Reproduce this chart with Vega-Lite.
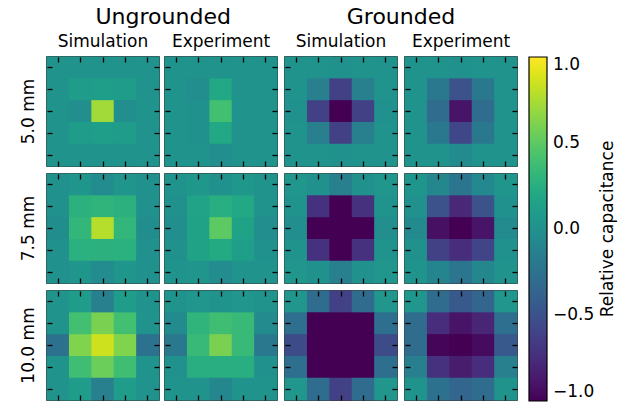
{
"$schema":"https://vega.github.io/schema/vega-lite/v6.json",
"padding":{"left":19,"top":6,"right":2,"bottom":2},
"background":"white",
"datasets":{"cells":[
{"s":"5.0 mm","g":"U","k":"Simulation","r":0,"c":0,"v":0.03},{"s":"5.0 mm","g":"U","k":"Simulation","r":0,"c":1,"v":0.03},{"s":"5.0 mm","g":"U","k":"Simulation","r":0,"c":2,"v":0.03},{"s":"5.0 mm","g":"U","k":"Simulation","r":0,"c":3,"v":0.03},{"s":"5.0 mm","g":"U","k":"Simulation","r":0,"c":4,"v":0.03},
{"s":"5.0 mm","g":"U","k":"Simulation","r":1,"c":0,"v":0.03},{"s":"5.0 mm","g":"U","k":"Simulation","r":1,"c":1,"v":0.1},{"s":"5.0 mm","g":"U","k":"Simulation","r":1,"c":2,"v":0.12},{"s":"5.0 mm","g":"U","k":"Simulation","r":1,"c":3,"v":0.1},{"s":"5.0 mm","g":"U","k":"Simulation","r":1,"c":4,"v":0.03},
{"s":"5.0 mm","g":"U","k":"Simulation","r":2,"c":0,"v":0.02},{"s":"5.0 mm","g":"U","k":"Simulation","r":2,"c":1,"v":-0.02},{"s":"5.0 mm","g":"U","k":"Simulation","r":2,"c":2,"v":0.72},{"s":"5.0 mm","g":"U","k":"Simulation","r":2,"c":3,"v":-0.02},{"s":"5.0 mm","g":"U","k":"Simulation","r":2,"c":4,"v":0.02},
{"s":"5.0 mm","g":"U","k":"Simulation","r":3,"c":0,"v":0.03},{"s":"5.0 mm","g":"U","k":"Simulation","r":3,"c":1,"v":0.1},{"s":"5.0 mm","g":"U","k":"Simulation","r":3,"c":2,"v":0.12},{"s":"5.0 mm","g":"U","k":"Simulation","r":3,"c":3,"v":0.1},{"s":"5.0 mm","g":"U","k":"Simulation","r":3,"c":4,"v":0.03},
{"s":"5.0 mm","g":"U","k":"Simulation","r":4,"c":0,"v":0.03},{"s":"5.0 mm","g":"U","k":"Simulation","r":4,"c":1,"v":0.03},{"s":"5.0 mm","g":"U","k":"Simulation","r":4,"c":2,"v":0.03},{"s":"5.0 mm","g":"U","k":"Simulation","r":4,"c":3,"v":0.03},{"s":"5.0 mm","g":"U","k":"Simulation","r":4,"c":4,"v":0.03},

{"s":"5.0 mm","g":"U","k":"Experiment","r":0,"c":0,"v":0.02},{"s":"5.0 mm","g":"U","k":"Experiment","r":0,"c":1,"v":0.02},{"s":"5.0 mm","g":"U","k":"Experiment","r":0,"c":2,"v":0.02},{"s":"5.0 mm","g":"U","k":"Experiment","r":0,"c":3,"v":0.02},{"s":"5.0 mm","g":"U","k":"Experiment","r":0,"c":4,"v":0.02},
{"s":"5.0 mm","g":"U","k":"Experiment","r":1,"c":0,"v":0.02},{"s":"5.0 mm","g":"U","k":"Experiment","r":1,"c":1,"v":-0.02},{"s":"5.0 mm","g":"U","k":"Experiment","r":1,"c":2,"v":0.2},{"s":"5.0 mm","g":"U","k":"Experiment","r":1,"c":3,"v":0.02},{"s":"5.0 mm","g":"U","k":"Experiment","r":1,"c":4,"v":0.02},
{"s":"5.0 mm","g":"U","k":"Experiment","r":2,"c":0,"v":0.02},{"s":"5.0 mm","g":"U","k":"Experiment","r":2,"c":1,"v":0.0},{"s":"5.0 mm","g":"U","k":"Experiment","r":2,"c":2,"v":0.4},{"s":"5.0 mm","g":"U","k":"Experiment","r":2,"c":3,"v":0.02},{"s":"5.0 mm","g":"U","k":"Experiment","r":2,"c":4,"v":0.02},
{"s":"5.0 mm","g":"U","k":"Experiment","r":3,"c":0,"v":0.02},{"s":"5.0 mm","g":"U","k":"Experiment","r":3,"c":1,"v":0.0},{"s":"5.0 mm","g":"U","k":"Experiment","r":3,"c":2,"v":0.2},{"s":"5.0 mm","g":"U","k":"Experiment","r":3,"c":3,"v":0.02},{"s":"5.0 mm","g":"U","k":"Experiment","r":3,"c":4,"v":0.02},
{"s":"5.0 mm","g":"U","k":"Experiment","r":4,"c":0,"v":0.02},{"s":"5.0 mm","g":"U","k":"Experiment","r":4,"c":1,"v":0.02},{"s":"5.0 mm","g":"U","k":"Experiment","r":4,"c":2,"v":-0.02},{"s":"5.0 mm","g":"U","k":"Experiment","r":4,"c":3,"v":0.02},{"s":"5.0 mm","g":"U","k":"Experiment","r":4,"c":4,"v":0.02},

{"s":"5.0 mm","g":"G","k":"Simulation","r":0,"c":0,"v":0.02},{"s":"5.0 mm","g":"G","k":"Simulation","r":0,"c":1,"v":0.02},{"s":"5.0 mm","g":"G","k":"Simulation","r":0,"c":2,"v":0.0},{"s":"5.0 mm","g":"G","k":"Simulation","r":0,"c":3,"v":0.02},{"s":"5.0 mm","g":"G","k":"Simulation","r":0,"c":4,"v":0.02},
{"s":"5.0 mm","g":"G","k":"Simulation","r":1,"c":0,"v":0.02},{"s":"5.0 mm","g":"G","k":"Simulation","r":1,"c":1,"v":-0.15},{"s":"5.0 mm","g":"G","k":"Simulation","r":1,"c":2,"v":-0.62},{"s":"5.0 mm","g":"G","k":"Simulation","r":1,"c":3,"v":-0.15},{"s":"5.0 mm","g":"G","k":"Simulation","r":1,"c":4,"v":0.02},
{"s":"5.0 mm","g":"G","k":"Simulation","r":2,"c":0,"v":0.0},{"s":"5.0 mm","g":"G","k":"Simulation","r":2,"c":1,"v":-0.62},{"s":"5.0 mm","g":"G","k":"Simulation","r":2,"c":2,"v":-1.0},{"s":"5.0 mm","g":"G","k":"Simulation","r":2,"c":3,"v":-0.62},{"s":"5.0 mm","g":"G","k":"Simulation","r":2,"c":4,"v":0.0},
{"s":"5.0 mm","g":"G","k":"Simulation","r":3,"c":0,"v":0.02},{"s":"5.0 mm","g":"G","k":"Simulation","r":3,"c":1,"v":-0.15},{"s":"5.0 mm","g":"G","k":"Simulation","r":3,"c":2,"v":-0.62},{"s":"5.0 mm","g":"G","k":"Simulation","r":3,"c":3,"v":-0.15},{"s":"5.0 mm","g":"G","k":"Simulation","r":3,"c":4,"v":0.02},
{"s":"5.0 mm","g":"G","k":"Simulation","r":4,"c":0,"v":0.02},{"s":"5.0 mm","g":"G","k":"Simulation","r":4,"c":1,"v":0.02},{"s":"5.0 mm","g":"G","k":"Simulation","r":4,"c":2,"v":0.0},{"s":"5.0 mm","g":"G","k":"Simulation","r":4,"c":3,"v":0.02},{"s":"5.0 mm","g":"G","k":"Simulation","r":4,"c":4,"v":0.02},

{"s":"5.0 mm","g":"G","k":"Experiment","r":0,"c":0,"v":0.02},{"s":"5.0 mm","g":"G","k":"Experiment","r":0,"c":1,"v":0.02},{"s":"5.0 mm","g":"G","k":"Experiment","r":0,"c":2,"v":0.0},{"s":"5.0 mm","g":"G","k":"Experiment","r":0,"c":3,"v":0.02},{"s":"5.0 mm","g":"G","k":"Experiment","r":0,"c":4,"v":0.02},
{"s":"5.0 mm","g":"G","k":"Experiment","r":1,"c":0,"v":0.02},{"s":"5.0 mm","g":"G","k":"Experiment","r":1,"c":1,"v":-0.2},{"s":"5.0 mm","g":"G","k":"Experiment","r":1,"c":2,"v":-0.5},{"s":"5.0 mm","g":"G","k":"Experiment","r":1,"c":3,"v":-0.2},{"s":"5.0 mm","g":"G","k":"Experiment","r":1,"c":4,"v":0.02},
{"s":"5.0 mm","g":"G","k":"Experiment","r":2,"c":0,"v":0.02},{"s":"5.0 mm","g":"G","k":"Experiment","r":2,"c":1,"v":-0.3},{"s":"5.0 mm","g":"G","k":"Experiment","r":2,"c":2,"v":-0.9},{"s":"5.0 mm","g":"G","k":"Experiment","r":2,"c":3,"v":-0.3},{"s":"5.0 mm","g":"G","k":"Experiment","r":2,"c":4,"v":0.02},
{"s":"5.0 mm","g":"G","k":"Experiment","r":3,"c":0,"v":0.02},{"s":"5.0 mm","g":"G","k":"Experiment","r":3,"c":1,"v":-0.2},{"s":"5.0 mm","g":"G","k":"Experiment","r":3,"c":2,"v":-0.58},{"s":"5.0 mm","g":"G","k":"Experiment","r":3,"c":3,"v":-0.2},{"s":"5.0 mm","g":"G","k":"Experiment","r":3,"c":4,"v":0.02},
{"s":"5.0 mm","g":"G","k":"Experiment","r":4,"c":0,"v":0.02},{"s":"5.0 mm","g":"G","k":"Experiment","r":4,"c":1,"v":0.02},{"s":"5.0 mm","g":"G","k":"Experiment","r":4,"c":2,"v":-0.05},{"s":"5.0 mm","g":"G","k":"Experiment","r":4,"c":3,"v":0.02},{"s":"5.0 mm","g":"G","k":"Experiment","r":4,"c":4,"v":0.02},

{"s":"7.5 mm","g":"U","k":"Simulation","r":0,"c":0,"v":0.0},{"s":"7.5 mm","g":"U","k":"Simulation","r":0,"c":1,"v":0.04},{"s":"7.5 mm","g":"U","k":"Simulation","r":0,"c":2,"v":-0.04},{"s":"7.5 mm","g":"U","k":"Simulation","r":0,"c":3,"v":0.04},{"s":"7.5 mm","g":"U","k":"Simulation","r":0,"c":4,"v":0.0},
{"s":"7.5 mm","g":"U","k":"Simulation","r":1,"c":0,"v":0.0},{"s":"7.5 mm","g":"U","k":"Simulation","r":1,"c":1,"v":0.28},{"s":"7.5 mm","g":"U","k":"Simulation","r":1,"c":2,"v":0.3},{"s":"7.5 mm","g":"U","k":"Simulation","r":1,"c":3,"v":0.28},{"s":"7.5 mm","g":"U","k":"Simulation","r":1,"c":4,"v":0.0},
{"s":"7.5 mm","g":"U","k":"Simulation","r":2,"c":0,"v":-0.03},{"s":"7.5 mm","g":"U","k":"Simulation","r":2,"c":1,"v":0.32},{"s":"7.5 mm","g":"U","k":"Simulation","r":2,"c":2,"v":0.78},{"s":"7.5 mm","g":"U","k":"Simulation","r":2,"c":3,"v":0.32},{"s":"7.5 mm","g":"U","k":"Simulation","r":2,"c":4,"v":-0.03},
{"s":"7.5 mm","g":"U","k":"Simulation","r":3,"c":0,"v":0.0},{"s":"7.5 mm","g":"U","k":"Simulation","r":3,"c":1,"v":0.27},{"s":"7.5 mm","g":"U","k":"Simulation","r":3,"c":2,"v":0.28},{"s":"7.5 mm","g":"U","k":"Simulation","r":3,"c":3,"v":0.27},{"s":"7.5 mm","g":"U","k":"Simulation","r":3,"c":4,"v":0.0},
{"s":"7.5 mm","g":"U","k":"Simulation","r":4,"c":0,"v":0.0},{"s":"7.5 mm","g":"U","k":"Simulation","r":4,"c":1,"v":0.04},{"s":"7.5 mm","g":"U","k":"Simulation","r":4,"c":2,"v":-0.04},{"s":"7.5 mm","g":"U","k":"Simulation","r":4,"c":3,"v":0.04},{"s":"7.5 mm","g":"U","k":"Simulation","r":4,"c":4,"v":0.0},

{"s":"7.5 mm","g":"U","k":"Experiment","r":0,"c":0,"v":0.02},{"s":"7.5 mm","g":"U","k":"Experiment","r":0,"c":1,"v":0.06},{"s":"7.5 mm","g":"U","k":"Experiment","r":0,"c":2,"v":0.0},{"s":"7.5 mm","g":"U","k":"Experiment","r":0,"c":3,"v":0.06},{"s":"7.5 mm","g":"U","k":"Experiment","r":0,"c":4,"v":0.02},
{"s":"7.5 mm","g":"U","k":"Experiment","r":1,"c":0,"v":0.0},{"s":"7.5 mm","g":"U","k":"Experiment","r":1,"c":1,"v":0.16},{"s":"7.5 mm","g":"U","k":"Experiment","r":1,"c":2,"v":0.25},{"s":"7.5 mm","g":"U","k":"Experiment","r":1,"c":3,"v":0.2},{"s":"7.5 mm","g":"U","k":"Experiment","r":1,"c":4,"v":0.02},
{"s":"7.5 mm","g":"U","k":"Experiment","r":2,"c":0,"v":-0.02},{"s":"7.5 mm","g":"U","k":"Experiment","r":2,"c":1,"v":0.15},{"s":"7.5 mm","g":"U","k":"Experiment","r":2,"c":2,"v":0.5},{"s":"7.5 mm","g":"U","k":"Experiment","r":2,"c":3,"v":0.15},{"s":"7.5 mm","g":"U","k":"Experiment","r":2,"c":4,"v":-0.02},
{"s":"7.5 mm","g":"U","k":"Experiment","r":3,"c":0,"v":0.0},{"s":"7.5 mm","g":"U","k":"Experiment","r":3,"c":1,"v":0.15},{"s":"7.5 mm","g":"U","k":"Experiment","r":3,"c":2,"v":0.22},{"s":"7.5 mm","g":"U","k":"Experiment","r":3,"c":3,"v":0.12},{"s":"7.5 mm","g":"U","k":"Experiment","r":3,"c":4,"v":0.0},
{"s":"7.5 mm","g":"U","k":"Experiment","r":4,"c":0,"v":0.02},{"s":"7.5 mm","g":"U","k":"Experiment","r":4,"c":1,"v":0.04},{"s":"7.5 mm","g":"U","k":"Experiment","r":4,"c":2,"v":-0.04},{"s":"7.5 mm","g":"U","k":"Experiment","r":4,"c":3,"v":0.02},{"s":"7.5 mm","g":"U","k":"Experiment","r":4,"c":4,"v":0.02},

{"s":"7.5 mm","g":"G","k":"Simulation","r":0,"c":0,"v":0.05},{"s":"7.5 mm","g":"G","k":"Simulation","r":0,"c":1,"v":0.0},{"s":"7.5 mm","g":"G","k":"Simulation","r":0,"c":2,"v":-0.15},{"s":"7.5 mm","g":"G","k":"Simulation","r":0,"c":3,"v":0.0},{"s":"7.5 mm","g":"G","k":"Simulation","r":0,"c":4,"v":0.05},
{"s":"7.5 mm","g":"G","k":"Simulation","r":1,"c":0,"v":0.02},{"s":"7.5 mm","g":"G","k":"Simulation","r":1,"c":1,"v":-0.72},{"s":"7.5 mm","g":"G","k":"Simulation","r":1,"c":2,"v":-1.0},{"s":"7.5 mm","g":"G","k":"Simulation","r":1,"c":3,"v":-0.72},{"s":"7.5 mm","g":"G","k":"Simulation","r":1,"c":4,"v":0.02},
{"s":"7.5 mm","g":"G","k":"Simulation","r":2,"c":0,"v":-0.02},{"s":"7.5 mm","g":"G","k":"Simulation","r":2,"c":1,"v":-1.0},{"s":"7.5 mm","g":"G","k":"Simulation","r":2,"c":2,"v":-1.0},{"s":"7.5 mm","g":"G","k":"Simulation","r":2,"c":3,"v":-1.0},{"s":"7.5 mm","g":"G","k":"Simulation","r":2,"c":4,"v":-0.02},
{"s":"7.5 mm","g":"G","k":"Simulation","r":3,"c":0,"v":0.02},{"s":"7.5 mm","g":"G","k":"Simulation","r":3,"c":1,"v":-0.72},{"s":"7.5 mm","g":"G","k":"Simulation","r":3,"c":2,"v":-1.0},{"s":"7.5 mm","g":"G","k":"Simulation","r":3,"c":3,"v":-0.72},{"s":"7.5 mm","g":"G","k":"Simulation","r":3,"c":4,"v":0.02},
{"s":"7.5 mm","g":"G","k":"Simulation","r":4,"c":0,"v":0.05},{"s":"7.5 mm","g":"G","k":"Simulation","r":4,"c":1,"v":0.0},{"s":"7.5 mm","g":"G","k":"Simulation","r":4,"c":2,"v":-0.15},{"s":"7.5 mm","g":"G","k":"Simulation","r":4,"c":3,"v":0.0},{"s":"7.5 mm","g":"G","k":"Simulation","r":4,"c":4,"v":0.05},

{"s":"7.5 mm","g":"G","k":"Experiment","r":0,"c":0,"v":0.04},{"s":"7.5 mm","g":"G","k":"Experiment","r":0,"c":1,"v":-0.08},{"s":"7.5 mm","g":"G","k":"Experiment","r":0,"c":2,"v":-0.22},{"s":"7.5 mm","g":"G","k":"Experiment","r":0,"c":3,"v":-0.06},{"s":"7.5 mm","g":"G","k":"Experiment","r":0,"c":4,"v":0.04},
{"s":"7.5 mm","g":"G","k":"Experiment","r":1,"c":0,"v":0.0},{"s":"7.5 mm","g":"G","k":"Experiment","r":1,"c":1,"v":-0.5},{"s":"7.5 mm","g":"G","k":"Experiment","r":1,"c":2,"v":-0.78},{"s":"7.5 mm","g":"G","k":"Experiment","r":1,"c":3,"v":-0.5},{"s":"7.5 mm","g":"G","k":"Experiment","r":1,"c":4,"v":0.0},
{"s":"7.5 mm","g":"G","k":"Experiment","r":2,"c":0,"v":-0.05},{"s":"7.5 mm","g":"G","k":"Experiment","r":2,"c":1,"v":-0.92},{"s":"7.5 mm","g":"G","k":"Experiment","r":2,"c":2,"v":-1.0},{"s":"7.5 mm","g":"G","k":"Experiment","r":2,"c":3,"v":-0.9},{"s":"7.5 mm","g":"G","k":"Experiment","r":2,"c":4,"v":-0.05},
{"s":"7.5 mm","g":"G","k":"Experiment","r":3,"c":0,"v":0.0},{"s":"7.5 mm","g":"G","k":"Experiment","r":3,"c":1,"v":-0.62},{"s":"7.5 mm","g":"G","k":"Experiment","r":3,"c":2,"v":-0.75},{"s":"7.5 mm","g":"G","k":"Experiment","r":3,"c":3,"v":-0.6},{"s":"7.5 mm","g":"G","k":"Experiment","r":3,"c":4,"v":0.0},
{"s":"7.5 mm","g":"G","k":"Experiment","r":4,"c":0,"v":0.02},{"s":"7.5 mm","g":"G","k":"Experiment","r":4,"c":1,"v":-0.1},{"s":"7.5 mm","g":"G","k":"Experiment","r":4,"c":2,"v":-0.22},{"s":"7.5 mm","g":"G","k":"Experiment","r":4,"c":3,"v":-0.08},{"s":"7.5 mm","g":"G","k":"Experiment","r":4,"c":4,"v":0.02},

{"s":"10.0 mm","g":"U","k":"Simulation","r":0,"c":0,"v":0.03},{"s":"10.0 mm","g":"U","k":"Simulation","r":0,"c":1,"v":0.1},{"s":"10.0 mm","g":"U","k":"Simulation","r":0,"c":2,"v":-0.15},{"s":"10.0 mm","g":"U","k":"Simulation","r":0,"c":3,"v":0.1},{"s":"10.0 mm","g":"U","k":"Simulation","r":0,"c":4,"v":0.03},
{"s":"10.0 mm","g":"U","k":"Simulation","r":1,"c":0,"v":0.02},{"s":"10.0 mm","g":"U","k":"Simulation","r":1,"c":1,"v":0.4},{"s":"10.0 mm","g":"U","k":"Simulation","r":1,"c":2,"v":0.6},{"s":"10.0 mm","g":"U","k":"Simulation","r":1,"c":3,"v":0.4},{"s":"10.0 mm","g":"U","k":"Simulation","r":1,"c":4,"v":0.02},
{"s":"10.0 mm","g":"U","k":"Simulation","r":2,"c":0,"v":-0.25},{"s":"10.0 mm","g":"U","k":"Simulation","r":2,"c":1,"v":0.62},{"s":"10.0 mm","g":"U","k":"Simulation","r":2,"c":2,"v":0.85},{"s":"10.0 mm","g":"U","k":"Simulation","r":2,"c":3,"v":0.62},{"s":"10.0 mm","g":"U","k":"Simulation","r":2,"c":4,"v":-0.25},
{"s":"10.0 mm","g":"U","k":"Simulation","r":3,"c":0,"v":0.02},{"s":"10.0 mm","g":"U","k":"Simulation","r":3,"c":1,"v":0.38},{"s":"10.0 mm","g":"U","k":"Simulation","r":3,"c":2,"v":0.55},{"s":"10.0 mm","g":"U","k":"Simulation","r":3,"c":3,"v":0.38},{"s":"10.0 mm","g":"U","k":"Simulation","r":3,"c":4,"v":0.02},
{"s":"10.0 mm","g":"U","k":"Simulation","r":4,"c":0,"v":0.03},{"s":"10.0 mm","g":"U","k":"Simulation","r":4,"c":1,"v":0.1},{"s":"10.0 mm","g":"U","k":"Simulation","r":4,"c":2,"v":-0.15},{"s":"10.0 mm","g":"U","k":"Simulation","r":4,"c":3,"v":0.1},{"s":"10.0 mm","g":"U","k":"Simulation","r":4,"c":4,"v":0.03},

{"s":"10.0 mm","g":"U","k":"Experiment","r":0,"c":0,"v":0.03},{"s":"10.0 mm","g":"U","k":"Experiment","r":0,"c":1,"v":0.05},{"s":"10.0 mm","g":"U","k":"Experiment","r":0,"c":2,"v":0.02},{"s":"10.0 mm","g":"U","k":"Experiment","r":0,"c":3,"v":0.05},{"s":"10.0 mm","g":"U","k":"Experiment","r":0,"c":4,"v":0.03},
{"s":"10.0 mm","g":"U","k":"Experiment","r":1,"c":0,"v":-0.05},{"s":"10.0 mm","g":"U","k":"Experiment","r":1,"c":1,"v":0.3},{"s":"10.0 mm","g":"U","k":"Experiment","r":1,"c":2,"v":0.38},{"s":"10.0 mm","g":"U","k":"Experiment","r":1,"c":3,"v":0.35},{"s":"10.0 mm","g":"U","k":"Experiment","r":1,"c":4,"v":-0.05},
{"s":"10.0 mm","g":"U","k":"Experiment","r":2,"c":0,"v":-0.2},{"s":"10.0 mm","g":"U","k":"Experiment","r":2,"c":1,"v":0.35},{"s":"10.0 mm","g":"U","k":"Experiment","r":2,"c":2,"v":0.6},{"s":"10.0 mm","g":"U","k":"Experiment","r":2,"c":3,"v":0.35},{"s":"10.0 mm","g":"U","k":"Experiment","r":2,"c":4,"v":-0.2},
{"s":"10.0 mm","g":"U","k":"Experiment","r":3,"c":0,"v":0.0},{"s":"10.0 mm","g":"U","k":"Experiment","r":3,"c":1,"v":0.25},{"s":"10.0 mm","g":"U","k":"Experiment","r":3,"c":2,"v":0.25},{"s":"10.0 mm","g":"U","k":"Experiment","r":3,"c":3,"v":0.25},{"s":"10.0 mm","g":"U","k":"Experiment","r":3,"c":4,"v":0.0},
{"s":"10.0 mm","g":"U","k":"Experiment","r":4,"c":0,"v":0.02},{"s":"10.0 mm","g":"U","k":"Experiment","r":4,"c":1,"v":0.02},{"s":"10.0 mm","g":"U","k":"Experiment","r":4,"c":2,"v":-0.08},{"s":"10.0 mm","g":"U","k":"Experiment","r":4,"c":3,"v":0.02},{"s":"10.0 mm","g":"U","k":"Experiment","r":4,"c":4,"v":0.02},

{"s":"10.0 mm","g":"G","k":"Simulation","r":0,"c":0,"v":0.05},{"s":"10.0 mm","g":"G","k":"Simulation","r":0,"c":1,"v":-0.3},{"s":"10.0 mm","g":"G","k":"Simulation","r":0,"c":2,"v":-0.62},{"s":"10.0 mm","g":"G","k":"Simulation","r":0,"c":3,"v":-0.3},{"s":"10.0 mm","g":"G","k":"Simulation","r":0,"c":4,"v":0.05},
{"s":"10.0 mm","g":"G","k":"Simulation","r":1,"c":0,"v":-0.28},{"s":"10.0 mm","g":"G","k":"Simulation","r":1,"c":1,"v":-1.0},{"s":"10.0 mm","g":"G","k":"Simulation","r":1,"c":2,"v":-1.0},{"s":"10.0 mm","g":"G","k":"Simulation","r":1,"c":3,"v":-1.0},{"s":"10.0 mm","g":"G","k":"Simulation","r":1,"c":4,"v":-0.28},
{"s":"10.0 mm","g":"G","k":"Simulation","r":2,"c":0,"v":-0.55},{"s":"10.0 mm","g":"G","k":"Simulation","r":2,"c":1,"v":-1.0},{"s":"10.0 mm","g":"G","k":"Simulation","r":2,"c":2,"v":-1.0},{"s":"10.0 mm","g":"G","k":"Simulation","r":2,"c":3,"v":-1.0},{"s":"10.0 mm","g":"G","k":"Simulation","r":2,"c":4,"v":-0.55},
{"s":"10.0 mm","g":"G","k":"Simulation","r":3,"c":0,"v":-0.28},{"s":"10.0 mm","g":"G","k":"Simulation","r":3,"c":1,"v":-1.0},{"s":"10.0 mm","g":"G","k":"Simulation","r":3,"c":2,"v":-1.0},{"s":"10.0 mm","g":"G","k":"Simulation","r":3,"c":3,"v":-1.0},{"s":"10.0 mm","g":"G","k":"Simulation","r":3,"c":4,"v":-0.28},
{"s":"10.0 mm","g":"G","k":"Simulation","r":4,"c":0,"v":0.05},{"s":"10.0 mm","g":"G","k":"Simulation","r":4,"c":1,"v":-0.3},{"s":"10.0 mm","g":"G","k":"Simulation","r":4,"c":2,"v":-0.62},{"s":"10.0 mm","g":"G","k":"Simulation","r":4,"c":3,"v":-0.3},{"s":"10.0 mm","g":"G","k":"Simulation","r":4,"c":4,"v":0.05},

{"s":"10.0 mm","g":"G","k":"Experiment","r":0,"c":0,"v":0.05},{"s":"10.0 mm","g":"G","k":"Experiment","r":0,"c":1,"v":-0.3},{"s":"10.0 mm","g":"G","k":"Experiment","r":0,"c":2,"v":-0.45},{"s":"10.0 mm","g":"G","k":"Experiment","r":0,"c":3,"v":-0.35},{"s":"10.0 mm","g":"G","k":"Experiment","r":0,"c":4,"v":0.05},
{"s":"10.0 mm","g":"G","k":"Experiment","r":1,"c":0,"v":-0.3},{"s":"10.0 mm","g":"G","k":"Experiment","r":1,"c":1,"v":-0.75},{"s":"10.0 mm","g":"G","k":"Experiment","r":1,"c":2,"v":-0.9},{"s":"10.0 mm","g":"G","k":"Experiment","r":1,"c":3,"v":-0.8},{"s":"10.0 mm","g":"G","k":"Experiment","r":1,"c":4,"v":-0.28},
{"s":"10.0 mm","g":"G","k":"Experiment","r":2,"c":0,"v":-0.3},{"s":"10.0 mm","g":"G","k":"Experiment","r":2,"c":1,"v":-0.98},{"s":"10.0 mm","g":"G","k":"Experiment","r":2,"c":2,"v":-1.0},{"s":"10.0 mm","g":"G","k":"Experiment","r":2,"c":3,"v":-0.95},{"s":"10.0 mm","g":"G","k":"Experiment","r":2,"c":4,"v":-0.45},
{"s":"10.0 mm","g":"G","k":"Experiment","r":3,"c":0,"v":-0.15},{"s":"10.0 mm","g":"G","k":"Experiment","r":3,"c":1,"v":-0.72},{"s":"10.0 mm","g":"G","k":"Experiment","r":3,"c":2,"v":-0.85},{"s":"10.0 mm","g":"G","k":"Experiment","r":3,"c":3,"v":-0.75},{"s":"10.0 mm","g":"G","k":"Experiment","r":3,"c":4,"v":-0.15},
{"s":"10.0 mm","g":"G","k":"Experiment","r":4,"c":0,"v":0.02},{"s":"10.0 mm","g":"G","k":"Experiment","r":4,"c":1,"v":-0.25},{"s":"10.0 mm","g":"G","k":"Experiment","r":4,"c":2,"v":-0.35},{"s":"10.0 mm","g":"G","k":"Experiment","r":4,"c":3,"v":-0.3},{"s":"10.0 mm","g":"G","k":"Experiment","r":4,"c":4,"v":0.02}
]},
"data":{"name":"cells"},
"spacing":4,
"hconcat":[
{
"title":{"text":"Ungrounded","dx":14},
"transform":[{"filter":"datum.g == 'U'"}],
"facet":{
"row":{"field":"s","type":"nominal","sort":["5.0 mm","7.5 mm","10.0 mm"],"header":{"title":null,"labelFontSize":17,"labelPadding":-10,"labelAngle":270}},
"column":{"field":"k","type":"nominal","sort":["Simulation","Experiment"],"header":{"title":null,"labelFontSize":17,"labelPadding":4}}
},
"spacing":{"row":4,"column":2},
"resolve":{"scale":{"x":"independent","y":"independent"}},
"spec":{
"width":112,"height":109,
"layer":[
{"mark":{"type":"rect","width":{"band":1.04},"height":{"band":1.04}},"encoding":{
"x":{"field":"c","type":"ordinal","axis":{"orient":"bottom"}},
"y":{"field":"r","type":"ordinal","axis":{"orient":"left"}},
"color":{"field":"v","type":"quantitative","scale":{"scheme":"viridis","domain":[-1,1]},
"legend":{"title":"Relative capacitance","values":[-1,-0.5,0,0.5,1],"format":".1f","gradientLength":344,"gradientThickness":18,"gradientStrokeColor":"black","gradientStrokeWidth":1.2,"labelFontSize":17,"labelOffset":6,"labelOverlap":false,"labelBaseline":"middle","titleOrient":"right","titleFontSize":17,"titleFontWeight":"normal","titleAnchor":"middle","titlePadding":6,"offset":10,"encoding":{"title":{"angle":{"value":-90},"baseline":{"value":"top"}}}}}}},
{"mark":{"type":"rect","opacity":0},"encoding":{
"x":{"field":"c","type":"ordinal","axis":{"orient":"top"}},
"y":{"field":"r","type":"ordinal","axis":{"orient":"right"}}}}
],
"resolve":{"axis":{"x":"independent","y":"independent"}}
}
},
{
"title":{"text":"Grounded"},
"transform":[{"filter":"datum.g == 'G'"}],
"facet":{
"row":{"field":"s","type":"nominal","sort":["5.0 mm","7.5 mm","10.0 mm"],"header":null},
"column":{"field":"k","type":"nominal","sort":["Simulation","Experiment"],"header":{"title":null,"labelFontSize":17,"labelPadding":4}}
},
"spacing":{"row":4,"column":4},
"resolve":{"scale":{"x":"independent","y":"independent"}},
"spec":{
"width":112,"height":109,
"layer":[
{"mark":{"type":"rect","width":{"band":1.04},"height":{"band":1.04}},"encoding":{
"x":{"field":"c","type":"ordinal","axis":{"orient":"bottom"}},
"y":{"field":"r","type":"ordinal","axis":{"orient":"left"}},
"color":{"field":"v","type":"quantitative","scale":{"scheme":"viridis","domain":[-1,1]},
"legend":{"title":"Relative capacitance","values":[-1,-0.5,0,0.5,1],"format":".1f","gradientLength":344,"gradientThickness":18,"gradientStrokeColor":"black","gradientStrokeWidth":1.2,"labelFontSize":17,"labelOffset":6,"labelOverlap":false,"labelBaseline":"middle","titleOrient":"right","titleFontSize":17,"titleFontWeight":"normal","titleAnchor":"middle","titlePadding":6,"offset":10,"encoding":{"title":{"angle":{"value":-90},"baseline":{"value":"top"}}}}}}},
{"mark":{"type":"rect","opacity":0},"encoding":{
"x":{"field":"c","type":"ordinal","axis":{"orient":"top"}},
"y":{"field":"r","type":"ordinal","axis":{"orient":"right"}}}}
],
"resolve":{"axis":{"x":"independent","y":"independent"}}
}
}
],
"resolve":{"scale":{"color":"shared"}},
"config":{
"font":"DejaVu Sans",
"view":{"stroke":"black","strokeWidth":1.5},
"axis":{"labels":false,"title":null,"ticks":true,"tickSize":5,"offset":-5,"tickColor":"black","tickWidth":1.3,"domain":false,"grid":false},
"header":{"labelColor":"black","labelFont":"DejaVu Sans"},
"title":{"fontSize":22,"fontWeight":"normal","color":"black","offset":4,"anchor":"middle"},
"legend":{"labelColor":"black","titleColor":"black"}
}
}
